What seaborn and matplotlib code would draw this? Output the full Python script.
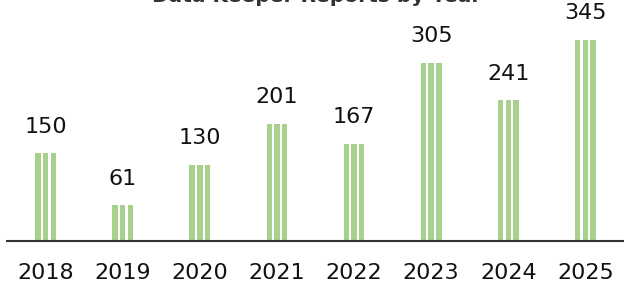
import matplotlib
matplotlib.use("Agg")
import matplotlib.pyplot as plt
import seaborn as sns
import pandas as pd

years = ["2018", "2019", "2020", "2021", "2022", "2023", "2024", "2025"]
values = [150, 61, 130, 201, 167, 305, 241, 345]
title = "Data Keeper Reports by Year"
stripes = ["a", "b", "c"]

sns.set_theme(style="white")
plt.rcParams["font.family"] = ["DejaVu Sans"]

rows = [(y, v, s) for y, v in zip(years, values) for s in stripes]
df = pd.DataFrame(rows, columns=["year", "value", "stripe"])

fig = plt.figure(figsize=(6.24, 2.88), dpi=100)
ax = fig.add_axes([7 / 624, 47 / 288, 1 - 7 / 624, 241 / 288])

green = "#a9d18e"
sns.barplot(data=df, x="year", y="value", hue="stripe", dodge=True,
            palette=[green] * 3, saturation=1, width=0.3, gap=0.3,
            legend=False, ax=ax)
for p in ax.patches:
    p.set_linewidth(0)

label_container = ax.containers[1]
ax.bar_label(label_container, labels=[str(v) for v in values], padding=12,
             fontsize=16, color="#111111")

ax.set_xlim(-0.5, 7.5)
ax.set_ylim(0, 413)
ax.set_xlabel("")
ax.set_ylabel("")
ax.set_yticks([])
ax.tick_params(axis="x", length=0, pad=15.5, labelsize=16, colors="#111111")
for s in ["top", "left", "right"]:
    ax.spines[s].set_visible(False)
ax.spines["bottom"].set_color("#333333")
ax.spines["bottom"].set_linewidth(1.5)

fig.text(0.508, 1 - 1.5 / 288, title, ha="center", va="baseline",
         fontsize=14.5, fontweight="bold", color="#333333")

fig.savefig("out.png", dpi=100)
